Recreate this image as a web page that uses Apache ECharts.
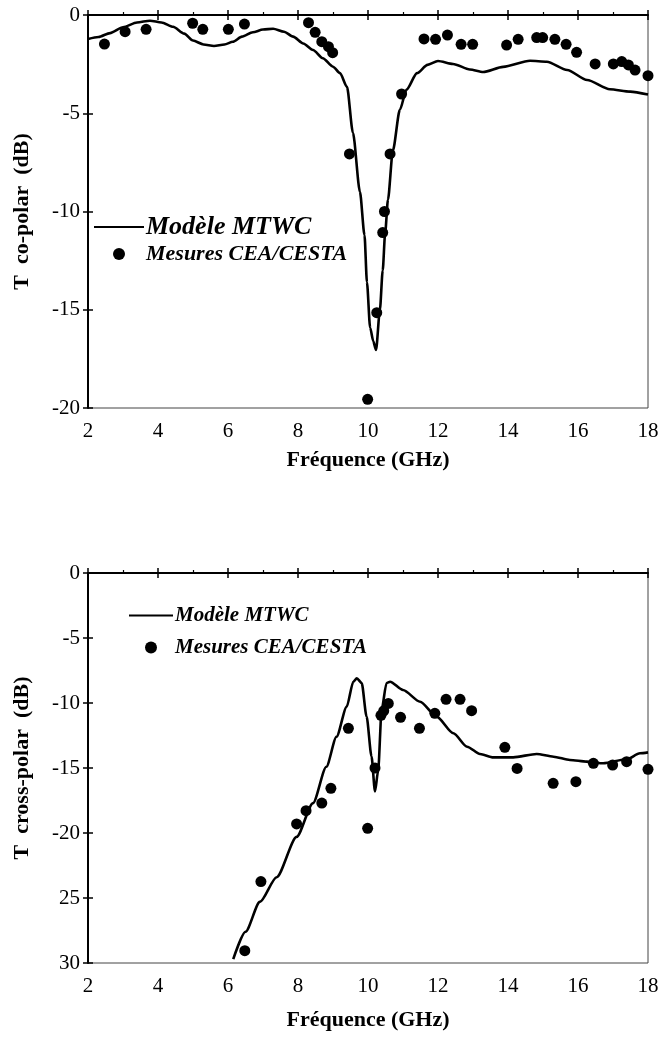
<!DOCTYPE html>
<html>
<head>
<meta charset="utf-8">
<script src="https://cdn.jsdelivr.net/npm/echarts@6/dist/echarts.min.js"></script>
<style>
html,body{margin:0;padding:0;background:#fff;}
#chart{width:662px;height:1037px;}
</style>
</head>
<body>
<div id="chart"></div>
<script>
// ---------- DATA ----------
const xTicks = [2, 4, 6, 8, 10, 12, 14, 16, 18];

const topYTicks = [0, -5, -10, -15, -20];
const topYLabels = ['0', '-5', '-10', '-15', '-20'];
const botYTicks = [0, -5, -10, -15, -20, -25, -30];
const botYLabels = ['0', '-5', '-10', '-15', '-20', '25', '30'];

const seriesNames = ['Modèle MTWC', 'Mesures CEA/CESTA'];
const topYTitle = 'T  co-polar  (dB)';
const botYTitle = 'T  cross-polar  (dB)';
const xTitle = 'Fréquence (GHz)';

// Co-polar model (GHz, dB)
const coModel = [
  [2.0,-1.22],[2.3,-1.12],[2.63,-0.92],[3.0,-0.62],[3.4,-0.38],[3.77,-0.29],[4.1,-0.38],
  [4.43,-0.6],[4.75,-0.95],[5.0,-1.3],[5.3,-1.5],[5.6,-1.58],[5.9,-1.5],[6.14,-1.36],
  [6.4,-1.1],[6.71,-0.88],[7.0,-0.74],[7.29,-0.7],[7.6,-0.85],[7.86,-1.1],[8.15,-1.45],
  [8.43,-1.78],[8.71,-2.2],[9.0,-2.63],[9.2,-2.96],[9.4,-3.66],[9.57,-6.0],[9.77,-9.0],
  [9.9,-11.2],[9.97,-13.6],[10.06,-15.9],[10.15,-16.6],[10.23,-17.05],[10.34,-15.0],
  [10.42,-13.0],[10.49,-11.1],[10.57,-9.4],[10.71,-6.9],[10.91,-4.83],[11.1,-3.8],
  [11.4,-2.96],[11.7,-2.54],[12.0,-2.34],[12.43,-2.49],[12.91,-2.77],[13.29,-2.9],
  [13.86,-2.64],[14.63,-2.33],[15.11,-2.38],[15.69,-2.8],[16.26,-3.31],[16.91,-3.78],
  [17.49,-3.9],[18.0,-4.05]
];
// Co-polar measurements
const coMeas = [
  [2.47,-1.48],[3.06,-0.85],[3.66,-0.73],[4.99,-0.42],[5.28,-0.73],[6.01,-0.73],[6.47,-0.46],
  [8.3,-0.39],[8.49,-0.88],[8.68,-1.36],[8.87,-1.61],[8.99,-1.92],[9.47,-7.07],[9.99,-19.56],
  [10.25,-15.15],[10.42,-11.07],[10.47,-10.0],[10.63,-7.07],[10.96,-4.02],[11.6,-1.22],
  [11.93,-1.24],[12.27,-1.02],[12.66,-1.49],[12.99,-1.49],[13.96,-1.53],[14.29,-1.24],
  [14.82,-1.15],[14.99,-1.15],[15.34,-1.24],[15.66,-1.49],[15.96,-1.9],[16.49,-2.49],
  [17.01,-2.49],[17.25,-2.37],[17.44,-2.54],[17.63,-2.8],[18.0,-3.09]
];
// Cross-polar model
const crossModel = [
  [6.15,-29.7],[6.5,-27.6],[6.91,-25.3],[7.39,-23.4],[7.96,-20.3],[8.43,-17.7],[8.81,-14.9],
  [9.1,-12.6],[9.39,-10.3],[9.58,-8.36],[9.68,-8.1],[9.82,-8.46],[9.96,-11.05],[10.1,-14.1],
  [10.2,-16.8],[10.29,-15.2],[10.39,-10.5],[10.53,-8.46],[10.63,-8.36],[11.0,-9.0],
  [11.49,-9.9],[11.96,-11.05],[12.44,-12.33],[12.83,-13.36],[13.2,-13.92],[13.58,-14.18],
  [14.15,-14.18],[14.82,-13.92],[15.3,-14.13],[15.77,-14.38],[16.25,-14.51],[16.72,-14.64],
  [17.39,-14.33],[17.77,-13.87],[18.0,-13.8]
];
// Cross-polar measurements
const crossMeas = [
  [6.48,-29.05],[6.94,-23.74],[7.96,-19.3],[8.23,-18.28],[8.68,-17.7],[8.94,-16.56],
  [9.44,-11.95],[9.99,-19.64],[10.2,-15.0],[10.37,-10.95],[10.45,-10.6],[10.58,-10.03],
  [10.93,-11.1],[11.47,-11.95],[11.91,-10.79],[12.23,-9.72],[12.63,-9.72],[12.96,-10.59],
  [13.91,-13.41],[14.26,-15.03],[15.29,-16.18],[15.94,-16.05],[16.44,-14.64],[16.99,-14.77],
  [17.39,-14.51],[18.0,-15.1]
];

// ---------- CHART ----------
const FONT = "'Liberation Serif','Times New Roman',serif";
const chart = echarts.init(document.getElementById('chart'));

function labelFor(ticks, labels) {
  return function (v) {
    const i = ticks.indexOf(Math.round(v));
    return i >= 0 ? labels[i] : '';
  };
}

function xAxesFor(gridIndex, nameGap) {
  const common = {
    type: 'value', gridIndex: gridIndex, min: xTicks[0], max: xTicks[xTicks.length - 1],
    interval: 2, splitLine: { show: false }
  };
  return [
    Object.assign({}, common, {
      position: 'bottom',
      axisLine: { show: true, lineStyle: { color: '#000', width: 2 } },
      axisTick: { show: true, inside: false, length: 5, lineStyle: { color: '#000', width: 1.5 } },
      axisLabel: { show: true, margin: 13, color: '#000', fontFamily: FONT, fontSize: 21 },
      name: xTitle, nameLocation: 'middle', nameGap: nameGap,
      nameTextStyle: { color: '#000', fontFamily: FONT, fontSize: 22, fontWeight: 'bold', verticalAlign: 'top' }
    }),
    Object.assign({}, common, {
      position: 'bottom',
      axisLine: { show: false },
      axisTick: { show: true, inside: true, length: 5, lineStyle: { color: '#000', width: 1.5 } },
      minorTick: { show: true, splitNumber: 2, length: 3, lineStyle: { color: '#000', width: 1.2 } },
      axisLabel: { show: false }
    })
  ];
}

function yAxesFor(gridIndex, ticks, labels, title) {
  const common = {
    type: 'value', gridIndex: gridIndex, min: ticks[ticks.length - 1], max: ticks[0],
    interval: 5, splitLine: { show: false }
  };
  return [
    Object.assign({}, common, {
      position: 'left',
      axisLine: { show: true, lineStyle: { color: '#000', width: 2 } },
      axisTick: { show: true, inside: false, length: 5, lineStyle: { color: '#000', width: 1.5 } },
      axisLabel: { show: true, margin: 8, color: '#000', fontFamily: FONT, fontSize: 21,
        formatter: labelFor(ticks, labels) },
      name: title, nameLocation: 'middle', nameGap: 55, nameRotate: 90,
      nameTextStyle: { color: '#000', fontFamily: FONT, fontSize: 22, fontWeight: 'bold' }
    }),
    Object.assign({}, common, {
      position: 'left',
      axisLine: { show: false },
      axisTick: { show: true, inside: true, length: 5, lineStyle: { color: '#000', width: 1.5 } },
      axisLabel: { show: false }
    })
  ];
}

const lineStyle = { color: '#000', width: 2.6 };
const hiddenSymbol = { opacity: 0, color: '#000' };

const option = {
  backgroundColor: '#fff',
  animation: false,
  grid: [
    { left: 88, top: 15, width: 560, height: 393, show: true, borderColor: '#444', borderWidth: 1, backgroundColor: 'transparent' },
    { left: 88, top: 573, width: 560, height: 390, show: true, borderColor: '#444', borderWidth: 1, backgroundColor: 'transparent' }
  ],
  xAxis: xAxesFor(0, 41).concat(xAxesFor(1, 46)),
  yAxis: yAxesFor(0, topYTicks, topYLabels, topYTitle).concat(yAxesFor(1, botYTicks, botYLabels, botYTitle)),
  legend: [
    {
      orient: 'vertical', left: 93, top: 214, padding: 0, itemGap: 3,
      itemWidth: 50, itemHeight: 12,
      textStyle: { color: '#000', fontFamily: FONT, fontStyle: 'italic', fontWeight: 'bold', fontSize: 22, padding: [0, 0, 0, -3] },
      data: [
        { name: seriesNames[0], textStyle: { fontSize: 26 }, itemStyle: hiddenSymbol },
        { name: seriesNames[1], itemStyle: { color: '#000', opacity: 1 } }
      ]
    },
    {
      orient: 'vertical', left: 128, top: 605, padding: 0, itemGap: 11,
      itemWidth: 44, itemHeight: 12,
      textStyle: { color: '#000', fontFamily: FONT, fontStyle: 'italic', fontWeight: 'bold', fontSize: 21, padding: [0, 0, 0, -3] },
      data: [
        { name: seriesNames[0], itemStyle: hiddenSymbol },
        { name: seriesNames[1], itemStyle: { color: '#000', opacity: 1 } }
      ]
    }
  ],
  series: [
    { name: seriesNames[0], type: 'line', xAxisIndex: 0, yAxisIndex: 0, data: coModel,
      showSymbol: false, symbol: 'none', symbolSize: 0, smooth: 0.25, smoothMonotone: 'x',
      lineStyle: lineStyle, itemStyle: { color: '#000' }, z: 3 },
    { name: seriesNames[1], type: 'scatter', xAxisIndex: 0, yAxisIndex: 0, data: coMeas,
      symbol: 'circle', symbolSize: 11, itemStyle: { color: '#000', opacity: 1 }, z: 4 },
    { name: seriesNames[0], type: 'line', xAxisIndex: 2, yAxisIndex: 2, data: crossModel,
      showSymbol: false, symbol: 'none', symbolSize: 0, smooth: 0.25, smoothMonotone: 'x',
      lineStyle: lineStyle, itemStyle: { color: '#000' }, z: 3 },
    { name: seriesNames[1], type: 'scatter', xAxisIndex: 2, yAxisIndex: 2, data: crossMeas,
      symbol: 'circle', symbolSize: 11, itemStyle: { color: '#000', opacity: 1 }, z: 4 }
  ]
};
chart.setOption(option);
</script>
</body>
</html>
